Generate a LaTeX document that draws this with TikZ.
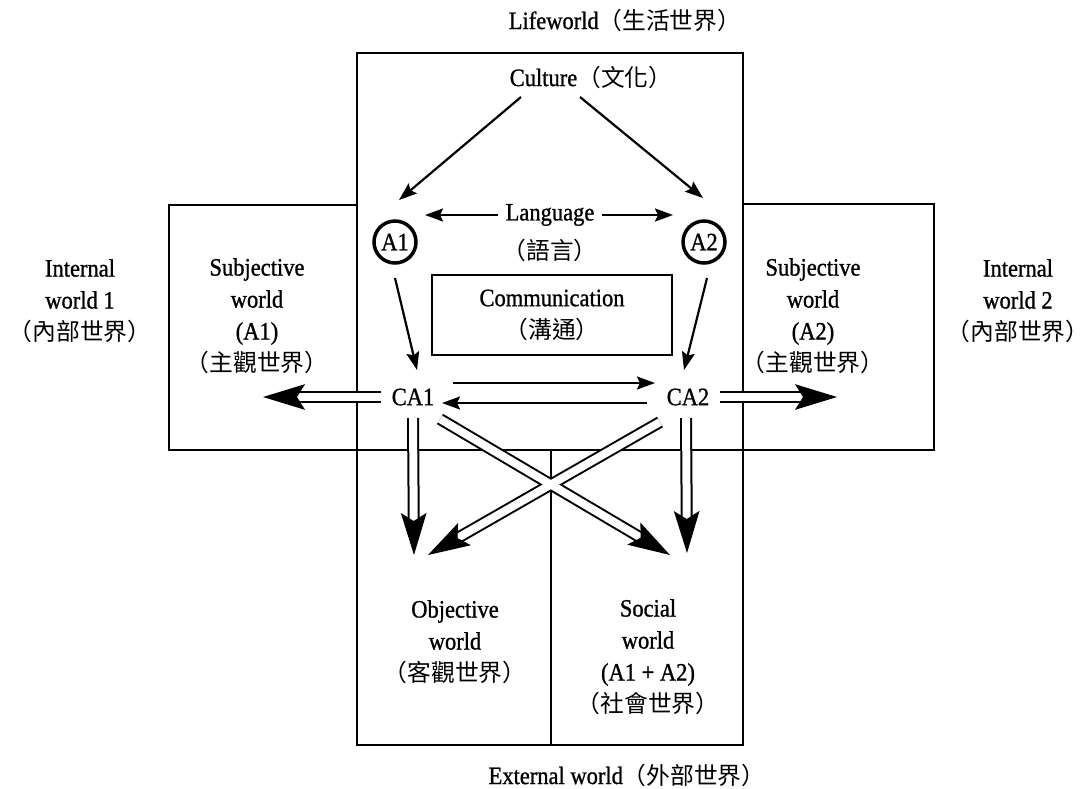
\documentclass[tikz,border=0pt]{standalone}
\usepackage{fontspec}
\setmainfont{Liberation Serif}[FakeStretch=0.9,FakeBold=1.0]
\newfontfamily\cjkfont{Noto Sans CJK TC}[Scale=0.95]
\newcommand\cj[1]{{\cjkfont #1}}
\usetikzlibrary{arrows.meta,calc}
\begin{document}
\begin{tikzpicture}[x=1pt,y=-1pt,
  txt/.style={font=\fontsize{25}{32}\selectfont, align=center, inner sep=0pt},
  frame/.style={draw, line width=2pt},
  thinarrow/.style={line width=2.2pt, -{Stealth[length=18pt,width=13pt,inset=3pt]}},
  hshaft/.style={line width=12pt, shorten >=34pt},
  hgap/.style={white, line width=8pt, shorten >=34pt},
  agent/.style={txt, circle, draw, line width=3.5pt, minimum size=42pt},
]
\useasboundingbox (0,0) rectangle (1092,788);

% frames
\draw[frame] (357,745) -- (357,53) -- (743,53) -- (743,745) -- cycle;
\draw[frame] (357,205) -- (169,205) -- (169,450) -- (934,450) -- (934,204) -- (743,204);
\draw[frame] (551,450) -- (551,745);

% texts
\node[txt] (life) at (625,20) {Lifeworld\cj{（生活世界）}};
\node[txt] (culture) at (591,77) {Culture\cj{（文化）}};
\node[txt] (lang) at (550,215) {Language};
\node[txt] (langzh) at (550,250) {\cj{（語言）}};
\node[agent] (a1) at (395,242) {A1};
\node[agent] (a2) at (704,242) {A2};
\node[txt, draw, line width=2.5pt, minimum width=240pt, minimum height=80pt] (comm) at (552,315) {Communication\\\cj{（溝通）}};
\node[txt] (int1) at (80,301) {Internal\\world 1\\\cj{（內部世界）}};
\node[txt] (sub1) at (257,316) {Subjective\\world\\(A1)\\\cj{（主觀世界）}};
\node[txt] (sub2) at (813,316) {Subjective\\world\\(A2)\\\cj{（主觀世界）}};
\node[txt] (int2) at (1018,301) {Internal\\world 2\\\cj{（內部世界）}};
\node[txt] (ca1) at (413,397) {CA1};
\node[txt] (ca2) at (688,397) {CA2};
\node[txt] (obj) at (455,642) {Objective\\world\\\cj{（客觀世界）}};
\node[txt] (soc) at (648,657) {Social\\world\\(A1 + A2)\\\cj{（社會世界）}};
\node[txt] (ext) at (627,775) {External world\cj{（外部世界）}};

% thin arrows
\draw[thinarrow] ($(culture)+(-70,20)$) -- ($(a1)+(4,-42)$);
\draw[thinarrow] ($(culture)+(-11,20)$) -- ($(a2)+(-1,-44)$);
\draw[thinarrow] ([xshift=-7pt]lang.west) -- ($(a1)+(30,-27)$);
\draw[thinarrow] ([xshift=7pt]lang.east) -- ($(a2)+(-31,-27)$);
\draw[thinarrow] ($(a1)+(0,36)$) -- ($(ca1)+(4,-27)$);
\draw[thinarrow] ($(a2)+(3,36)$) -- ($(ca2)+(-4,-27)$);
\draw[thinarrow] ($(ca1)+(40,-14)$) -- ($(ca2)+(-33,-14)$);
\draw[thinarrow] ($(ca2)+(-41,6)$) -- ($(ca1)+(29,6)$);

% hollow arrows
\coordinate (sL) at ($(ca1)+(-32,0)$);  \coordinate (tL) at (263,397);
\coordinate (sR) at ($(ca2)+(32,0)$);   \coordinate (tR) at (837,397);
\coordinate (sD1) at ($(ca1)+(0,21)$);  \coordinate (tD1) at (414,555);
\coordinate (sD2) at ($(ca2)+(-2,21)$); \coordinate (tD2) at (687,553);
\coordinate (sX1) at ($(ca1)+(27,22)$); \coordinate (tX1) at (670,555);
\coordinate (sX2) at ($(ca2)+(-28,25)$);\coordinate (tX2) at (428,555);

\foreach \s/\t in {sL/tL,sR/tR,sD1/tD1,sD2/tD2,sX1/tX1,sX2/tX2}
  \draw[hshaft] (\s) -- (\t);
\foreach \s/\t in {sL/tL,sR/tR,sD1/tD1,sD2/tD2,sX1/tX1,sX2/tX2}
  \draw[hgap] (\s) -- (\t);
\foreach \s/\t in {sL/tL,sR/tR,sD1/tD1,sD2/tD2,sX1/tX1,sX2/tX2}
  \fill ($(\t)!44pt!17:(\s)$) -- (\t) -- ($(\t)!44pt!-17:(\s)$) -- ($(\t)!34pt!(\s)$) -- cycle;
\end{tikzpicture}
\end{document}
